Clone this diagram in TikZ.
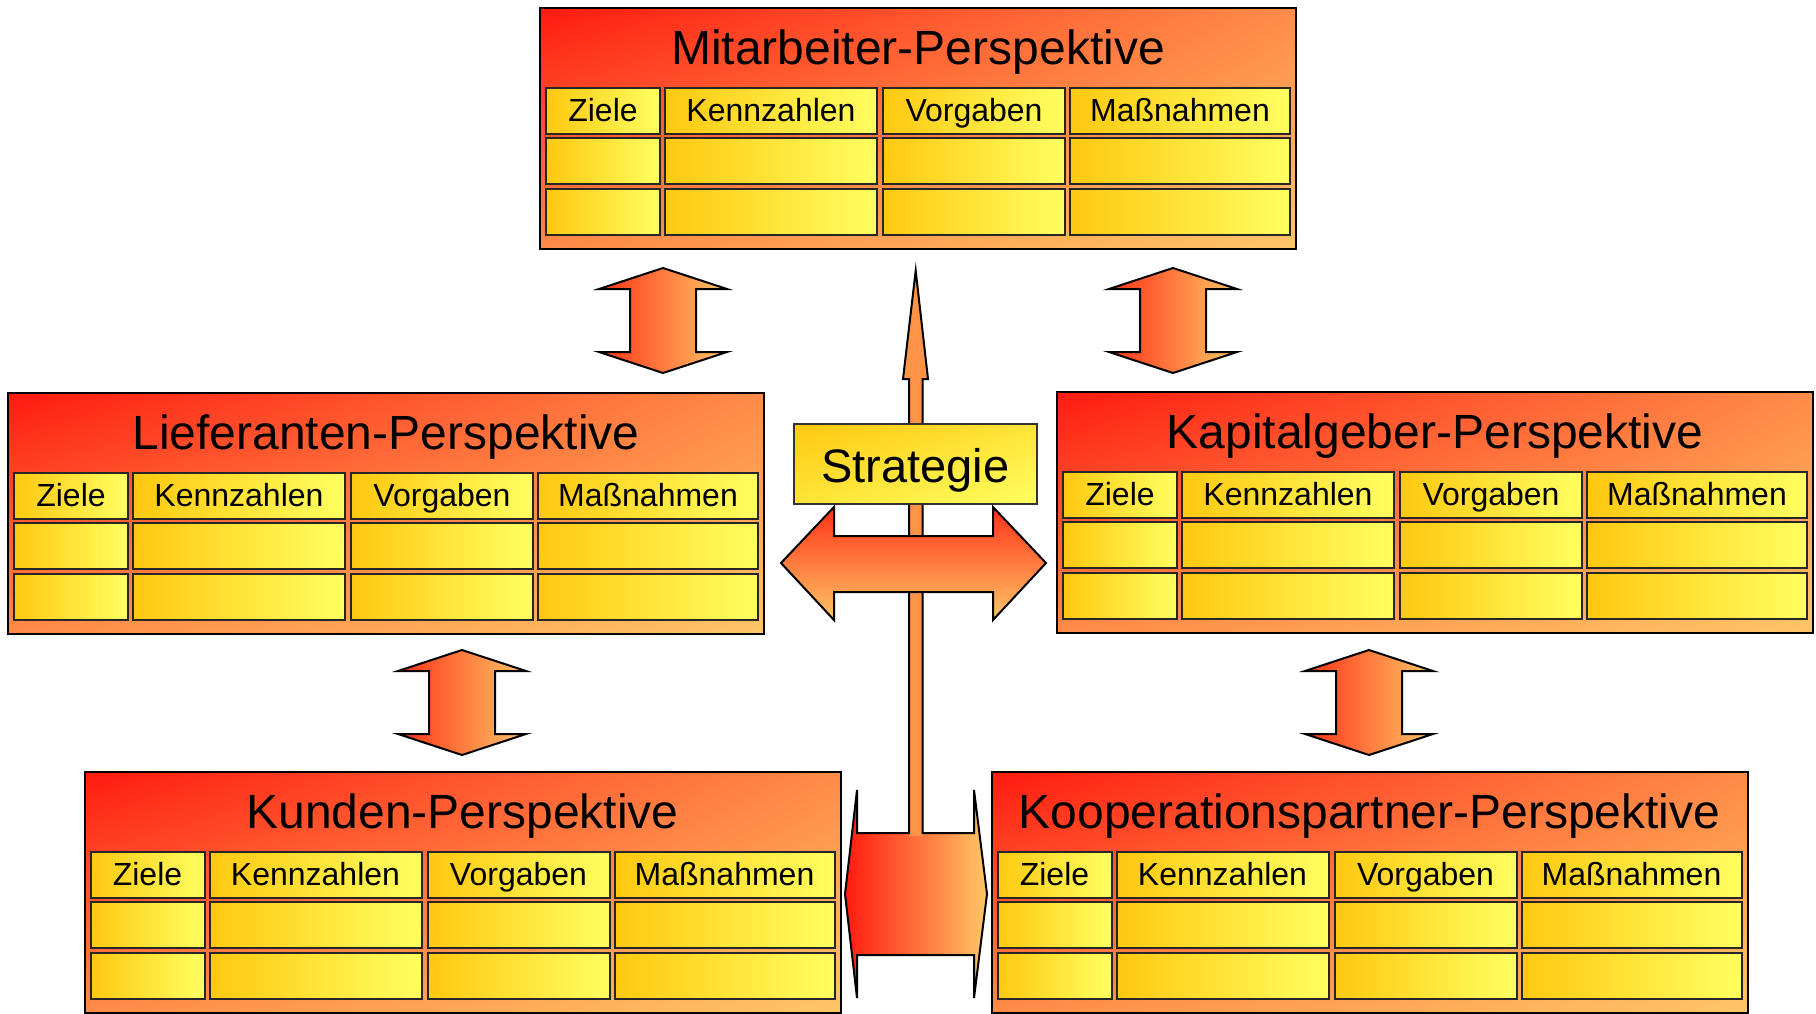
\documentclass[tikz,border=0pt]{standalone}
\usepackage{fontspec}
\setmainfont{Liberation Sans}
\usetikzlibrary{shadings}
\definecolor{bred}{RGB}{255,26,16}
\definecolor{bmid}{RGB}{255,140,72}
\definecolor{blight}{RGB}{255,198,102}
\definecolor{cgold}{RGB}{255,200,16}
\definecolor{cyel}{RGB}{255,255,96}
\definecolor{smid}{RGB}{255,228,56}
\definecolor{ared}{RGB}{255,50,24}
\definecolor{shaftc}{RGB}{255,148,72}
\tikzset{
  bigbox/.style={draw=black, line width=2pt, minimum width=756pt, minimum height=241pt, inner sep=0pt,
    upper left=bred, upper right=bmid, lower left=bmid, lower right=blight},
  ttl/.style={inner sep=0pt, anchor=base, font=\fontsize{48}{56}\selectfont},
  cell/.style={draw=black!85, line width=2pt, minimum height=46pt, inner sep=0pt,
    text height=26pt, text depth=4.6pt,
    left color=cgold, right color=cyel, font=\fontsize{32}{38}\selectfont},
  blockarrow/.style={draw=black, line width=2pt, line join=miter},
  stratbox/.style={draw=black!80, line width=2pt, minimum width=243pt, minimum height=80pt, inner sep=0pt,
    text height=44pt, text depth=8pt,
    upper left=cgold, upper right=smid, lower left=smid, lower right=cyel,
    font=\fontsize{47}{56}\selectfont},
}
\newcommand{\perspbox}[4]{%
  \node[bigbox] (#1) at (#2+378,#3+120.5) {};
  \node[ttl] (#1-t) at (#2+378,#3+56) {#4};
  \node[cell, minimum width=114pt] (#1-z) at (#2+63,#3+103) {Ziele};
  \node[cell, minimum width=212pt] (#1-k) at (#2+231,#3+103) {Kennzahlen};
  \node[cell, minimum width=182pt] (#1-v) at (#2+434,#3+103) {Vorgaben};
  \node[cell, minimum width=220pt] (#1-m) at (#2+640,#3+103) {Maßnahmen};
  \node[cell, minimum width=114pt] (#1-z2) at (#2+63,#3+153) {};
  \node[cell, minimum width=212pt] (#1-k2) at (#2+231,#3+153) {};
  \node[cell, minimum width=182pt] (#1-v2) at (#2+434,#3+153) {};
  \node[cell, minimum width=220pt] (#1-m2) at (#2+640,#3+153) {};
  \node[cell, minimum width=114pt] (#1-z3) at (#2+63,#3+204) {};
  \node[cell, minimum width=212pt] (#1-k3) at (#2+231,#3+204) {};
  \node[cell, minimum width=182pt] (#1-v3) at (#2+434,#3+204) {};
  \node[cell, minimum width=220pt] (#1-m3) at (#2+640,#3+204) {};
}
\newcommand{\vdarrow}[2]{%
  \draw[blockarrow, left color=ared, right color=blight]
    (#1,#2) -- (#1+64,#2+21) -- (#1+33,#2+21) -- (#1+33,#2+84) -- (#1+64,#2+84)
    -- (#1,#2+105) -- (#1-64,#2+84) -- (#1-33,#2+84) -- (#1-33,#2+21) -- (#1-64,#2+21) -- cycle;
}
\begin{document}
\begin{tikzpicture}[x=1pt,y=-1pt]
\useasboundingbox (0,0) rectangle (1816,1013);
\clip (0,0) rectangle (1816,1013);
\perspbox{mit}{540}{8}{Mitarbeiter-Perspektive}
\perspbox{lief}{8}{393}{Lieferanten-Perspektive}
\perspbox{kap}{1057}{392}{Kapitalgeber-Perspektive}
\perspbox{kun}{84.5}{772}{Kunden-Perspektive}
\perspbox{koop}{991.5}{772}{Kooperationspartner-Perspektive}
% vertical double arrows
\vdarrow{663}{268}
\vdarrow{1173}{268}
\vdarrow{462}{650}
\vdarrow{1369}{650}
% bottom double arrow (fill only)
\shade[left color=bred, right color=blight]
  (845,894) -- (857,790) -- (857,833) -- (974,833) -- (974,790) -- (987,894)
  -- (974,998) -- (974,955) -- (857,955) -- (857,998) -- cycle;
% up arrow (fill only)
\fill[shaftc] (909,836) -- (909,379) -- (903,379) -- (915.7,270.7) -- (928,379) -- (922.5,379) -- (922.5,836) -- cycle;
% combined outline
\draw[blockarrow]
  (845,894) -- (857,790) -- (857,833) -- (909,833) -- (909,379) -- (903,379) -- (915.7,270.7)
  -- (928,379) -- (922.5,379) -- (922.5,833) -- (974,833) -- (974,790) -- (987,894)
  -- (974,998) -- (974,955) -- (857,955) -- (857,998) -- cycle;
% horizontal double arrow
\draw[blockarrow, top color=ared, bottom color=blight]
  (781,563) -- (834,507) -- (834,536) -- (993,536) -- (993,507) -- (1046,563)
  -- (993,620) -- (993,592) -- (834,592) -- (834,620) -- cycle;
% strategy box
\node[stratbox] (strat) at (915.5,464) {Strategie};
\end{tikzpicture}
\end{document}
